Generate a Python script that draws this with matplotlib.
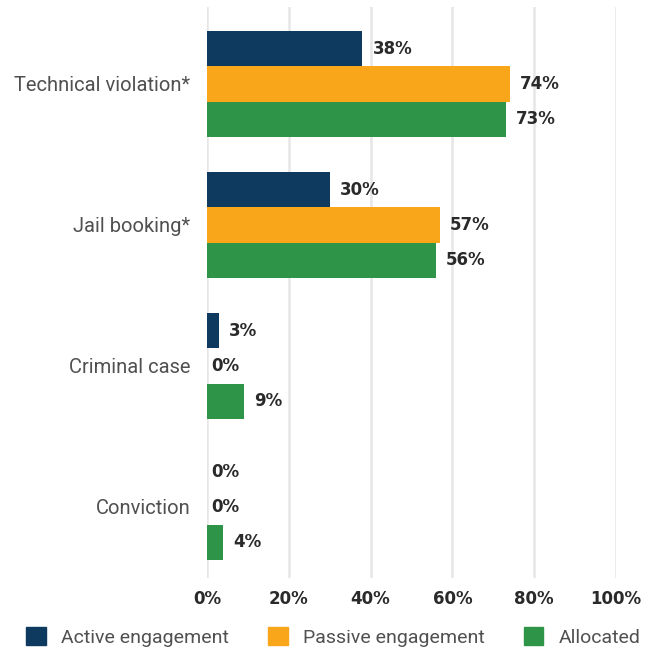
import numpy as np
import matplotlib.pyplot as plt
from matplotlib.patches import Patch

categories = ['Technical violation*', 'Jail booking*', 'Criminal case', 'Conviction']
series = ['Active engagement', 'Passive engagement', 'Allocated']
active = [38, 30, 3, 0]
passive = [74, 57, 0, 0]
allocated = [73, 56, 9, 4]
xticks = [0, 20, 40, 60, 80, 100]

colors = ['#0f3a5f', '#f9a61a', '#2e9447']
label_font = 'Roboto'
value_font = 'DejaVu Sans'

fig = plt.figure(figsize=(6.45, 6.51), dpi=100)
ax = fig.add_axes([207 / 645, 1 - 578 / 651, (616 - 207) / 645, (578 - 7) / 651])

y = np.arange(len(categories))
h = 0.25
for i, (vals, c) in enumerate(zip([active, passive, allocated], colors)):
    pos = y + (i - 1) * h
    ax.barh(pos, vals, height=h, color=c, zorder=3)
    for p, v in zip(pos, vals):
        off = 4 if v == 0 else 10
        ax.annotate(f'{v}%', (v, p), xytext=(off, 0), textcoords='offset pixels',
                    ha='left', va='center', fontsize=12, fontweight='bold',
                    family=value_font, color='#2a2a2a')

ax.set_xlim(0, 100)
ax.set_ylim(3.504, -0.546)
ax.set_xticks(xticks)
ax.set_xticklabels([f'{t}%' for t in xticks], fontsize=12, fontweight='bold',
                   family=value_font, color='#2a2a2a')
ax.set_yticks(y)
ax.set_yticklabels(categories, fontsize=14.5, family=label_font, color='#505050')
ax.tick_params(length=0, pad=12)
ax.tick_params(axis='x', pad=9)
ax.xaxis.grid(True, color='#e6e6e6', linewidth=1.8, zorder=0)
for s in ax.spines.values():
    s.set_visible(False)

handles = [Patch(color=c, label=s) for c, s in zip(colors, series)]
fig.legend(handles=handles, loc='lower center', bbox_to_anchor=(0.517, -0.02), ncol=3,
           frameon=False, prop={'family': label_font, 'size': 14},
           labelcolor='#505050', handlelength=1.0, handleheight=1.0,
           handletextpad=0.8, columnspacing=2.0)

fig.savefig('out.png', dpi=100)
